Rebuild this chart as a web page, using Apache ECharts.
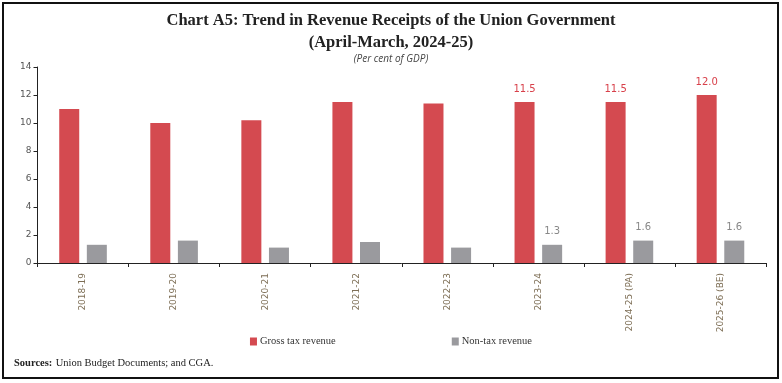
<!DOCTYPE html>
<html><head><meta charset="utf-8">
<script src="https://cdn.jsdelivr.net/npm/echarts@6/dist/echarts.min.js"></script>
<style>html,body{margin:0;padding:0;background:#fff}#c{width:782px;height:383px}</style>
</head><body><div id="c"></div>
<script>
const categories = ['2018-19','2019-20','2020-21','2021-22','2022-23','2023-24','2024-25 (PA)','2025-26 (BE)'];
const grossTax = [11.0, 10.0, 10.2, 11.5, 11.4, 11.5, 11.5, 12.0];
const nonTax = [1.3, 1.6, 1.1, 1.5, 1.1, 1.3, 1.6, 1.6];
const labelFrom = 5; // values labelled from 2023-24 onward
const yTicks = [0, 2, 4, 6, 8, 10, 12, 14];

const chart = echarts.init(document.getElementById('c'));
const labelled = (arr, color) => arr.map((v, i) => i >= labelFrom ? {value: v, label: {show: true, position: 'top', distance: 8, color: color, fontSize: 10, fontFamily: 'DejaVu Sans', formatter: p => p.value.toFixed(1)}} : v);
chart.setOption({
  animation: false,
  title: [
    {text: 'Chart A5: Trend in Revenue Receipts of the Union Government\n(April-March, 2024-25)', left: 'center', top: 5,
     textStyle: {fontFamily: 'Liberation Serif', fontWeight: 'bold', fontSize: 16.5, lineHeight: 22, color: '#222'}},
    {text: '(Per cent of GDP)', left: 'center', top: 49, textStyle: {fontFamily: 'Open Sans', fontStyle: 'italic', fontWeight: 'normal', fontSize: 10, color: '#444'}}
  ],
  legend: {bottom: 31, left: 'center', itemGap: 116, itemWidth: 7, itemHeight: 8, icon: 'rect',
    textStyle: {fontFamily: 'Liberation Serif', fontSize: 10.5, color: '#333', padding: [0,0,0,-2]}},
  grid: {left: 37.5, right: 16, top: 67, bottom: 120},
  xAxis: {type: 'category', data: categories,
    axisLine: {lineStyle: {color: '#222', width: 1}},
    axisTick: {show: true, length: 4, lineStyle: {color: '#222'}},
    axisLabel: {rotate: 90, fontFamily: 'DejaVu Sans', fontSize: 9, color: '#7d6e55', margin: 10}},
  yAxis: {type: 'value', min: 0, max: 14, interval: 2,
    splitLine: {show: false},
    axisLine: {show: true, lineStyle: {color: '#222'}},
    axisTick: {show: true, length: 4, lineStyle: {color: '#222'}},
    axisLabel: {fontFamily: 'DejaVu Sans', fontSize: 9, color: '#555', margin: 6,
      formatter: v => yTicks.includes(v) ? String(v) : ''}},
  series: [
    {name: 'Gross tax revenue', type: 'bar', data: labelled(grossTax, '#d8404a'), barWidth: 20, barGap: '38%',
     itemStyle: {color: '#d44a50'}},
    {name: 'Non-tax revenue', type: 'bar', data: labelled(nonTax, '#888'), barWidth: 20,
     itemStyle: {color: '#9a9a9e'}}
  ],
  graphic: [
    {type: 'rect', shape: {x: 3, y: 3, width: 775, height: 375}, style: {fill: 'none', stroke: '#111', lineWidth: 2}},
    {type: 'text', left: 14, top: 357, style: {rich: {b: {fontFamily: 'Liberation Serif', fontWeight: 'bold', fontSize: 10.5, fill: '#222'}, n: {fontFamily: 'Liberation Serif', fontSize: 10.5, fill: '#222'}}, text: '{b|Sources:} {n|Union Budget Documents; and CGA.}'}}
  ]
});
</script></body></html>
